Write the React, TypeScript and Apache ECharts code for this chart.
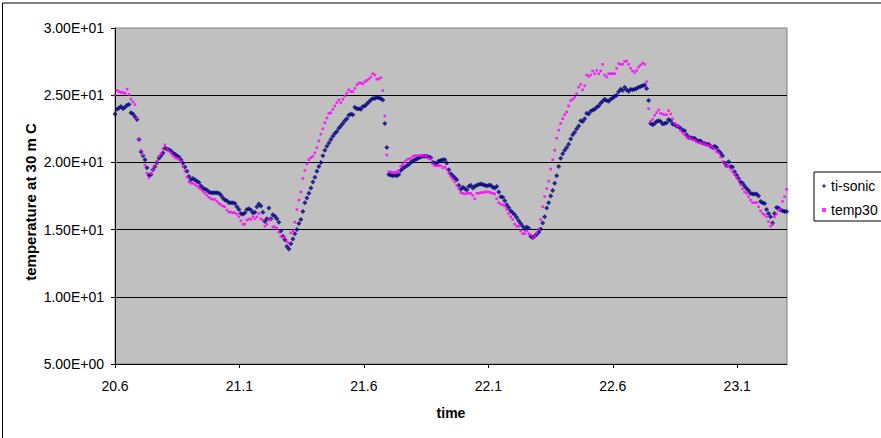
import React, { useEffect, useRef } from "react";
import * as echarts from "echarts";

// ---- data ----
const START_TIME = 20.6; // hours, first sample
const SAMPLE_STEP = 0.00803; // hours between samples

const tiSonic: number[] = [
  23.6, 23.95, 24.05, 24.15, 24.0, 24.1, 24.25, 24.3, 23.7, 23.6,
  23.4, 23.2, 21.7, 20.8, 20.5, 20.2, 19.6, 19.05, 19.1, 19.45,
  19.7, 20.0, 20.3, 20.5, 20.7, 21.05, 21.0, 20.95, 20.85, 20.7,
  20.6, 20.5, 20.4, 20.2, 19.95, 19.65, 19.35, 18.95, 18.7, 18.8,
  18.7, 18.6, 18.5, 18.25, 18.1, 18.0, 17.95, 17.8, 17.75, 17.75,
  17.75, 17.75, 17.7, 17.55, 17.35, 17.2, 17.15, 17.0, 17.0, 17.0,
  16.95, 16.7, 16.5, 16.2, 16.15, 16.25, 16.5, 16.55, 16.45, 16.25,
  16.3, 16.7, 16.9, 16.75, 16.3, 15.6, 15.8, 16.6, 15.8, 16.1,
  16.0, 15.8, 15.55, 14.9, 14.5, 14.25, 13.75, 13.55, 13.95, 14.3,
  14.7, 15.0, 15.45, 15.75, 16.35, 17.0, 17.35, 17.7, 18.1, 18.55,
  18.9, 19.35, 19.7, 20.0, 20.5, 20.9, 21.2, 21.45, 21.7, 21.95,
  22.15, 22.3, 22.55, 22.7, 22.9, 23.1, 23.25, 23.5, 23.6, 23.55,
  24.1, 24.0, 24.0, 23.95, 24.15, 24.2, 24.35, 24.5, 24.65, 24.75,
  24.75, 24.85, 24.8, 24.75, 24.65, 22.9, 21.1, 19.1, 19.05, 19.0,
  19.05, 19.0, 19.1, 19.4, 19.55, 19.65, 19.75, 19.85, 20.0, 20.1,
  20.2, 20.25, 20.35, 20.4, 20.45, 20.45, 20.45, 20.4, 20.35, 20.0,
  19.95, 19.9, 20.1, 20.15, 20.2, 20.2, 19.95, 19.45, 19.15, 19.0,
  18.85, 18.7, 18.3, 18.0, 18.15, 18.05, 17.95, 18.2, 18.3, 18.1,
  18.2, 18.3, 18.35, 18.4, 18.35, 18.3, 18.25, 18.3, 18.3, 18.15,
  18.1, 18.2, 17.8, 17.45, 17.4, 17.15, 16.85, 16.65, 16.4, 16.25,
  16.1, 15.9, 15.65, 15.45, 15.25, 15.05, 15.2, 15.1, 14.5, 14.4,
  14.5, 14.65, 14.8, 15.05, 15.5, 15.95, 16.6, 17.0, 17.5, 17.9,
  18.45, 19.0, 19.7, 20.3, 20.65, 20.9, 21.1, 21.35, 21.75, 22.05,
  22.25, 22.5, 22.7, 23.1, 23.05, 23.25, 23.65, 23.6, 23.8, 23.9,
  23.95, 24.1, 24.2, 24.4, 24.55, 24.7, 24.6, 24.55, 24.7, 24.8,
  24.9, 25.0, 25.25, 25.45, 25.35, 25.6, 25.4, 25.3, 25.45, 25.4,
  25.45, 25.5, 25.6, 25.65, 25.7, 25.75, 25.5, 24.6, 22.9, 22.8,
  22.9, 23.05, 23.1, 23.05, 22.85, 22.9, 22.95, 23.2, 23.1, 22.85,
  22.8, 22.7, 22.65, 22.55, 22.4, 22.35, 22.05, 21.85, 21.85, 21.8,
  21.8, 21.65, 21.6, 21.6, 21.45, 21.4, 21.35, 21.35, 21.2, 21.1,
  21.2, 21.1, 20.85, 20.7, 20.5, 19.95, 19.75, 20.05, 19.7, 19.65,
  19.3, 19.05, 18.8, 18.55, 18.45, 18.25, 18.05, 17.9, 17.7, 17.65,
  17.65, 17.65, 17.5, 17.1, 17.0, 16.95, 16.5, 16.2, 15.95, 15.5,
  16.2, 16.65, 16.6, 16.45, 16.4, 16.35, 16.35,
];

const temp30: number[] = [
  25.0, 25.35, 25.27, 25.2, 25.2, 25.15, 25.45, 25.05, 24.7, 24.5,
  24.3, 23.3, 21.7, 20.9, 20.55, 19.8, 19.2, 18.85, 19.15, 19.45,
  19.75, 20.05, 20.45, 20.65, 21.0, 21.3, 21.0, 20.85, 20.7, 20.5,
  20.35, 20.3, 20.25, 20.05, 19.7, 19.35, 18.9, 18.55, 18.45, 18.45,
  18.35, 18.25, 18.1, 18.0, 17.85, 17.7, 17.55, 17.4, 17.3, 17.25,
  17.25, 17.1, 16.95, 16.85, 16.75, 16.7, 16.45, 16.3, 16.3, 16.25,
  16.25, 16.15, 15.95, 15.65, 15.4, 15.4, 15.7, 15.8, 15.75, 15.95,
  15.8, 15.95, 16.2, 15.8, 15.7, 15.25, 15.4, 15.7, 15.75, 15.2,
  15.2, 15.1, 14.8, 14.5, 14.45, 14.4, 14.1, 14.0, 14.75, 14.9,
  15.55, 16.5, 17.2, 17.8, 18.8, 19.4, 19.9, 20.2, 20.35, 20.45,
  20.7, 21.1, 21.6, 22.1, 22.5, 22.95, 23.3, 23.65, 23.7, 23.95,
  24.2, 24.45, 24.65, 24.45, 24.7, 24.95, 25.15, 25.4, 25.27, 25.27,
  25.5, 25.77, 25.9, 25.9, 25.85, 26.0, 26.1, 26.2, 26.35, 26.6,
  26.5, 26.2, 26.2, 26.3, 25.35, 23.45, 20.55, 19.3, 19.3, 19.25,
  19.25, 19.3, 19.4, 19.7, 19.85, 20.05, 20.2, 20.25, 20.3, 20.45,
  20.5, 20.5, 20.5, 20.5, 20.5, 20.5, 20.45, 20.3, 20.25, 19.9,
  19.75, 19.75, 19.75, 19.75, 19.6, 19.65, 19.5, 19.2, 18.95, 18.75,
  18.55, 18.3, 18.05, 17.75, 17.7, 17.65, 17.7, 17.7, 17.7, 17.55,
  17.3, 17.7, 17.7, 17.75, 17.75, 17.8, 17.8, 17.8, 17.75, 17.7,
  17.65, 17.3, 17.0, 16.9, 16.85, 16.75, 16.5, 16.2, 15.95, 15.75,
  15.4, 15.25, 15.25, 14.9, 14.7, 14.7, 14.9, 14.7, 14.6, 14.35,
  14.5, 14.75, 15.05, 15.75, 16.7, 17.45, 18.05, 18.6, 19.5, 20.2,
  20.9, 21.8, 22.4, 22.9, 23.25, 23.55, 23.75, 24.2, 24.6, 24.7,
  24.85, 25.1, 25.6, 25.8, 25.4, 25.7, 26.5, 26.4, 26.5, 26.8,
  26.6, 26.85, 26.6, 26.8, 27.3, 26.5, 26.35, 26.6, 26.6, 26.6,
  26.6, 27.0, 27.35, 27.3, 27.3, 27.5, 27.55, 27.3, 27.0, 26.8,
  26.7, 26.85, 27.1, 27.25, 27.4, 27.3, 26.0, 24.0, 23.05, 23.2,
  23.5, 23.7, 23.9, 23.65, 23.6, 23.55, 23.55, 23.85, 23.6, 23.25,
  22.9, 22.75, 22.7, 22.4, 22.2, 22.05, 21.9, 21.8, 21.8, 21.7,
  21.65, 21.55, 21.45, 21.45, 21.4, 21.35, 21.3, 21.25, 21.2, 21.15,
  21.0, 20.8, 20.7, 20.4, 20.05, 19.9, 19.7, 19.7, 19.5, 19.3,
  19.1, 18.9, 18.7, 18.35, 18.05, 17.8, 17.7, 17.45, 17.2, 17.0,
  17.0, 17.0, 16.7, 16.4, 16.2, 16.1, 15.95, 15.6, 15.25, 15.4,
  15.95, 16.15, 16.45, 16.5, 17.1, 17.45, 18.0,
];

const seriesNames = ["ti-sonic", "temp30"];
const xTickValues = [20.6, 21.1, 21.6, 22.1, 22.6, 23.1];
const xMin = 20.6;
const xMax = 23.3;
const yMin = 5;
const yMax = 30;
const yStep = 5;
const xTitle = "time";
const yTitle = "temperature at 30 m C";

const FONT = "'Liberation Sans', Arial, Helvetica, sans-serif";

function toPairs(values: number[]): [number, number][] {
  return values.map((v, i) => [START_TIME + i * SAMPLE_STEP, v]);
}

function sci(v: number): string {
  const s = v.toExponential(2).toUpperCase(); // e.g. 3.00E+1
  const m = s.match(/^(-?[\d.]+)E([+-])(\d+)$/);
  if (!m) return s;
  return `${m[1]}E${m[2]}${m[3].padStart(2, "0")}`;
}

export default function App() {
  const ref = useRef<HTMLDivElement>(null);

  useEffect(() => {
    document.body.style.margin = "0";
    if (!ref.current) return;
    const chart = echarts.init(ref.current, undefined, { renderer: "svg" });
    chart.setOption({
      animation: false,
      backgroundColor: "#ffffff",
      textStyle: { fontFamily: FONT },
      grid: {
        left: 115,
        top: 28,
        width: 672,
        height: 336,
        show: true,
        backgroundColor: "#C0C0C0",
        borderColor: "#808080",
        borderWidth: 1,
      },
      xAxis: {
        type: "value",
        min: xMin,
        max: xMax,
        axisLine: { show: true, onZero: false, lineStyle: { color: "#000", width: 1 } },
        axisTick: {
          show: true,
          length: 4,
          inside: false,
          lineStyle: { color: "#000" },
          customValues: xTickValues,
        },
        axisLabel: {
          customValues: xTickValues,
          formatter: (v: number) => v.toFixed(1),
          fontSize: 14,
          color: "#000",
          fontFamily: FONT,
          margin: 15,
        },
        splitLine: { show: false },
      },
      yAxis: {
        type: "value",
        min: yMin,
        max: yMax,
        interval: yStep,
        axisLine: { show: true, onZero: false, lineStyle: { color: "#000", width: 1 } },
        axisTick: { show: true, length: 4, inside: false, lineStyle: { color: "#000" } },
        axisLabel: {
          formatter: (v: number) => sci(v),
          fontSize: 14,
          color: "#000",
          fontFamily: FONT,
          margin: 11,
        },
        splitLine: {
          show: true,
          showMinLine: false,
          showMaxLine: false,
          lineStyle: { color: "#000", width: 1 },
        },
      },
      legend: {
        orient: "vertical",
        left: 814,
        top: 172,
        backgroundColor: "#ffffff",
        borderColor: "#000",
        borderWidth: 1,
        borderRadius: 0,
        padding: [7, 14, 4, 8],
        itemGap: 10,
        itemWidth: 4,
        itemHeight: 4,
        textStyle: { fontSize: 14, color: "#000", fontFamily: FONT },
        data: [
          { name: seriesNames[0], icon: "diamond" },
          { name: seriesNames[1], icon: "rect" },
        ],
      },
      graphic: [
        {
          type: "rect",
          silent: true,
          shape: { x: 2.5, y: 3, width: 1200, height: 1200 },
          style: { fill: "none", stroke: "#000", lineWidth: 1 },
          z: 0,
        },
        {
          type: "text",
          silent: true,
          x: 30,
          y: 202,
          rotation: Math.PI / 2,
          style: {
            text: yTitle,
            fontSize: 15,
            fontWeight: "bold",
            fontFamily: FONT,
            fill: "#000",
            align: "center",
            verticalAlign: "middle",
          },
        },
        {
          type: "text",
          silent: true,
          x: 451,
          y: 413,
          style: {
            text: xTitle,
            fontSize: 14,
            fontWeight: "bold",
            fontFamily: FONT,
            fill: "#000",
            align: "center",
            verticalAlign: "middle",
          },
        },
      ],
      series: [
        {
          name: seriesNames[0],
          type: "scatter",
          symbol: "diamond",
          symbolSize: 5,
          itemStyle: { color: "#000080" },
          data: toPairs(tiSonic),
          z: 3,
        },
        {
          name: seriesNames[1],
          type: "scatter",
          symbol: "rect",
          symbolSize: 2.6,
          itemStyle: { color: "#FF00FF" },
          data: toPairs(temp30),
          z: 4,
        },
      ],
    });
    return () => chart.dispose();
  }, []);

  return <div ref={ref} style={{ width: 881, height: 438 }} />;
}
